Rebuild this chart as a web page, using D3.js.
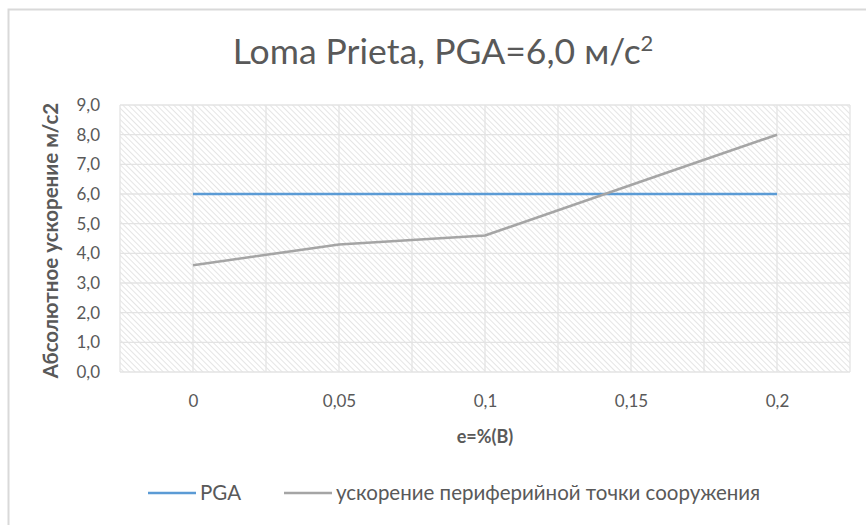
<!DOCTYPE html>
<html>
<head>
<meta charset="utf-8">
<script src="https://cdn.jsdelivr.net/npm/d3@7"></script>
<style>
  html, body { margin: 0; padding: 0; background: #fff; }
  svg { display: block; font-family: Lato, "Open Sans", "Noto Sans", sans-serif; }
</style>
</head>
<body>
<svg id="chart" width="866" height="525"></svg>
<script>
// Eccentricity values (category axis) and accelerations, m/s²
const categories = ["0", "0,05", "0,1", "0,15", "0,2"];
const pgaValues = [6.0, 6.0, 6.0, 6.0, 6.0];
const pointValues = [3.6, 4.3, 4.6, 6.3, 8.0];
const yTicks = [0, 1, 2, 3, 4, 5, 6, 7, 8, 9];
const seriesNames = ["PGA", "ускорение периферийной точки сооружения"];
const seriesColors = ["#5b9bd5", "#a5a5a5"];

const svg = d3.select("#chart");
const W = 866, H = 525;
const plot = { left: 120, right: 850, top: 105, bottom: 372 };
const textColor = "#595959";

// Outer chart frame
svg.append("rect")
  .attr("x", 8.5).attr("y", 9.5)
  .attr("width", W + 20).attr("height", H + 20)
  .attr("fill", "#fff").attr("stroke", "#d9d9d9").attr("stroke-width", 2);

// Diagonal hatch fill for the plot area
const defs = svg.append("defs");
const pat = defs.append("pattern")
  .attr("id", "hatch")
  .attr("patternUnits", "userSpaceOnUse")
  .attr("width", 4).attr("height", 4)
  .attr("patternTransform", "rotate(-45)");
pat.append("rect").attr("width", 4).attr("height", 4).attr("fill", "#fff");
pat.append("line")
  .attr("x1", 0).attr("y1", 0).attr("x2", 0).attr("y2", 4)
  .attr("stroke", "#d4d4d4").attr("stroke-width", 1.2);

const x = d3.scalePoint().domain(categories).range([plot.left, plot.right]).padding(0.5);
const y = d3.scaleLinear().domain([0, 9]).range([plot.bottom, plot.top]);

svg.append("rect")
  .attr("x", plot.left).attr("y", plot.top)
  .attr("width", plot.right - plot.left).attr("height", plot.bottom - plot.top)
  .attr("fill", "url(#hatch)");

// Gridlines: vertical at category centres and boundaries
const step = x.step();
const vGrid = [];
categories.forEach(c => { vGrid.push(x(c) - step / 2); vGrid.push(x(c)); });
vGrid.push(x(categories[categories.length - 1]) + step / 2);
svg.append("g").selectAll("line").data(vGrid).join("line")
  .attr("x1", d => d).attr("x2", d => d)
  .attr("y1", plot.top).attr("y2", plot.bottom)
  .attr("stroke", "#e3e3e3").attr("stroke-width", 1.3);

svg.append("g").selectAll("line").data(yTicks).join("line")
  .attr("x1", plot.left).attr("x2", plot.right)
  .attr("y1", d => y(d)).attr("y2", d => y(d))
  .attr("stroke", "#e3e3e3").attr("stroke-width", 1.3);

// Axes (labels only)
const fontStack = "Lato, 'Open Sans', 'Noto Sans', sans-serif";
const yAxis = d3.axisLeft(y).tickValues(yTicks).tickSize(0).tickPadding(0)
  .tickFormat(d => d3.format(".1f")(d).replace(".", ","));
const gy = svg.append("g").attr("transform", `translate(${plot.left - 20},0)`).call(yAxis);
gy.attr("font-size", null).attr("font-family", null);
gy.select(".domain").remove();
gy.selectAll("text").attr("fill", textColor).style("font-size", "17px")
  .style("font-family", fontStack);

const xAxis = d3.axisBottom(x).tickSize(0).tickPadding(0);
const gx = svg.append("g").attr("transform", `translate(0,${plot.bottom + 23})`).call(xAxis);
gx.attr("font-size", null).attr("font-family", null);
gx.select(".domain").remove();
gx.selectAll("text").attr("fill", textColor).style("font-size", "17px")
  .style("font-family", fontStack);

// Series lines
const line = d3.line().x((d, i) => x(categories[i])).y(d => y(d));
[pgaValues, pointValues].forEach((vals, k) => {
  svg.append("path").datum(vals)
    .attr("d", line)
    .attr("fill", "none")
    .attr("stroke", seriesColors[k])
    .attr("stroke-width", 2.6)
    .attr("stroke-linejoin", "round");
});

// Title
const title = svg.append("text")
  .attr("x", 443).attr("y", 64)
  .attr("text-anchor", "middle")
  .attr("fill", textColor)
  .style("font-size", "35.5px");
title.append("tspan").text("Loma Prieta, PGA=6,0 м/с");
title.append("tspan").attr("dy", -13).style("font-size", "22px").text("2");

// Axis titles
svg.append("text")
  .attr("transform", `translate(58,${(plot.top + plot.bottom) / 2 + 2}) rotate(-90)`)
  .attr("text-anchor", "middle")
  .attr("fill", textColor)
  .style("font-size", "20.5px").style("font-weight", "bold")
  .text("Абсолютное ускорение м/с2");

svg.append("text")
  .attr("x", (plot.left + plot.right) / 2).attr("y", 443)
  .attr("text-anchor", "middle")
  .attr("fill", textColor)
  .style("font-size", "18px").style("font-weight", "bold")
  .text("e=%(B)");

// Legend
const legendItems = [
  { name: seriesNames[0], color: seriesColors[0], x0: 148 },
  { name: seriesNames[1], color: seriesColors[1], x0: 284 }
];
const lg = svg.append("g");
legendItems.forEach(it => {
  lg.append("line")
    .attr("x1", it.x0).attr("x2", it.x0 + 48)
    .attr("y1", 493).attr("y2", 493)
    .attr("stroke", it.color).attr("stroke-width", 2.6);
  lg.append("text")
    .attr("x", it.x0 + 52).attr("y", 500)
    .attr("fill", textColor)
    .style("font-size", "20.5px")
    .text(it.name);
});
</script>
</body>
</html>
